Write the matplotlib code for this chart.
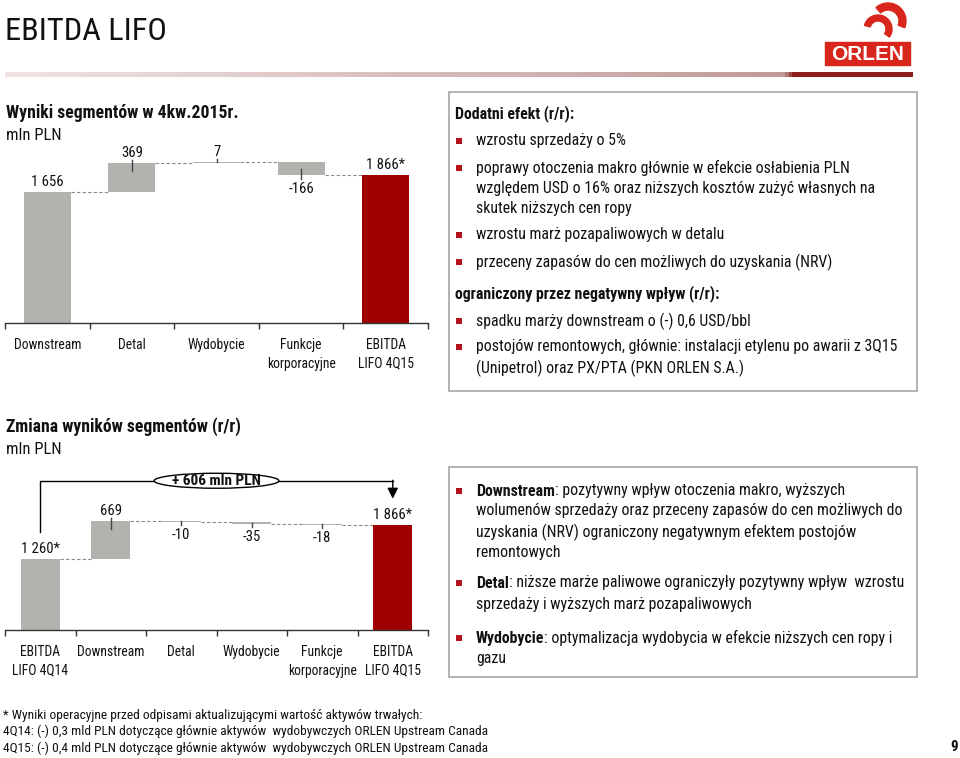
import numpy as np
import matplotlib
matplotlib.use('Agg')
from matplotlib import pyplot as plt
from matplotlib import font_manager
from matplotlib.patches import Rectangle, Ellipse, Wedge
from matplotlib.colors import LinearSegmentedColormap

# --- dane ---
seg_names = ['Downstream', 'Detal', 'Wydobycie', 'Funkcje\nkorporacyjne', 'EBITDA\nLIFO 4Q15']
seg_steps = [1656, 369, 7, -166]
seg_total = 1866

chg_names = ['EBITDA\nLIFO 4Q14', 'Downstream', 'Detal', 'Wydobycie',
             'Funkcje\nkorporacyjne', 'EBITDA\nLIFO 4Q15']
chg_start = 1260
chg_steps = [669, -10, -35, -18]
chg_total = 1866

# --- czcionka (waska, jak Arial Narrow) ---
installed = {f.name for f in font_manager.fontManager.ttflist}
FONT = 'Liberation Sans'
for cand in ['Liberation Sans Narrow', 'Arial Narrow', 'Nimbus Sans Narrow',
             'Roboto Condensed', 'Archivo Narrow']:
    if cand in installed:
        FONT = cand
        break
plt.rcParams['font.family'] = [FONT, 'DejaVu Sans']

GRAY = '#b2b2ae'
RED = '#a00000'
BULLET = '#b5121b'
TXT = '#111111'

W, H = 960, 758
fig = plt.figure(figsize=(W / 100, H / 100), dpi=100)

# warstwa w pikselach
ov = fig.add_axes([0, 0, 1, 1])
ov.set_xlim(0, W)
ov.set_ylim(H, 0)
ov.axis('off')


def rect(x0, y_top, x1, y_bot):
    return [x0 / W, (H - y_bot) / H, (x1 - x0) / W, (y_bot - y_top) / H]


def fmt(v):
    return f"{v:,}".replace(',', ' ')


# --- naglowek ---
ov.text(5, 32, 'EBITDA LIFO', fontsize=23.3, va='center', ha='left', color=TXT)
cmap = LinearSegmentedColormap.from_list('g', [(0, '#f0e4e4'), (0.86, '#c09a9a'),
                                               (0.87, '#8b1e1e'), (1, '#8b1e1e')])
ov.imshow(np.linspace(0, 1, 256)[None, :], cmap=cmap, aspect='auto',
          extent=[5, 913, 77, 72], zorder=1)
ov.set_xlim(0, W)
ov.set_ylim(H, 0)

# logo ORLEN
LOGO = '#d9261c'
ov.add_patch(Rectangle((825, 42), 85, 23, color=LOGO, zorder=2))
ov.text(867.5, 54, 'ORLEN', color='white', fontsize=15, fontweight='bold',
        ha='center', va='center', family='Liberation Sans', zorder=3)
ov.add_patch(Wedge((888, 21), 18, 228, 382, width=7, color=LOGO, zorder=2))
ov.add_patch(Wedge((878, 29), 14, 195, 395, width=6, color=LOGO, zorder=2))


# --- wykres kaskadowy ---
def waterfall(names, start, steps, total, baseline, top_px, scale):
    ax = fig.add_axes(rect(5, top_px, 428, baseline))
    ax.set_facecolor('none')
    n = len(names)
    x = np.arange(n)
    w = 0.555
    bottoms, heights, kinds = [], [], []
    level = 0
    if start is not None:
        bottoms.append(0)
        heights.append(start)
        kinds.append('start')
        level = start
    levels = [level] if start is not None else []
    for v in steps:
        bottoms.append(min(level, level + v))
        heights.append(abs(v))
        kinds.append('step')
        level += v
        levels.append(level)
    bottoms.append(0)
    heights.append(total)
    kinds.append('total')
    colors = [RED if k == 'total' else GRAY for k in kinds]
    ax.bar(x, heights, w, bottom=bottoms, color=colors, linewidth=0, zorder=2)

    # laczniki
    for i in range(n - 1):
        ax.plot([x[i] + w / 2, x[i + 1] - w / 2], [levels[i], levels[i]],
                color='#8a8a8a', lw=0.8, ls=(0, (3, 2)), zorder=1)

    px = 1 / scale
    vals = ([start] if start is not None else []) + list(steps) + [total]
    for i, (k, b, h, v) in enumerate(zip(kinds, bottoms, heights, vals)):
        top = b + h
        if k in ('start', 'total'):
            ax.text(x[i], top + 3 * px, fmt(v) + '*', ha='center', va='bottom',
                    fontsize=10.6, color=TXT)
            continue
        if v >= 0:
            ax.text(x[i], top + 3 * px, fmt(v), ha='center', va='bottom',
                    fontsize=10.6, color=TXT)
            if b > 0:
                ax.plot([x[i], x[i]], [top + 3 * px, top - min(8 * px, h * 0.6)],
                        color='#444444', lw=1, zorder=3)
        else:
            ax.text(x[i], b - 6.5 * px, fmt(v), ha='center', va='top',
                    fontsize=10.6, color=TXT)
            ax.plot([x[i], x[i]], [b + h / 2, b - 3.5 * px],
                    color='#444444', lw=1, zorder=3)

    ax.set_xlim(-0.5, n - 0.5)
    ax.set_ylim(0, (baseline - top_px) / scale)
    ax.set_yticks([])
    for s in ('left', 'right', 'top'):
        ax.spines[s].set_visible(False)
    ax.spines['bottom'].set_color('#333333')
    ax.spines['bottom'].set_linewidth(1)
    ax.set_xticks(x)
    ax.set_xticklabels(names, fontsize=9.8, color=TXT)
    for lab in ax.get_xticklabels():
        lab.set_linespacing(1.4)
    ax.set_xticks(np.arange(n + 1) - 0.5, minor=True)
    ax.tick_params(axis='x', which='major', length=0, pad=11)
    ax.tick_params(axis='x', which='minor', length=4, width=1, direction='out',
                   color='#333333')
    return ax, x


# wykres 1
ov.text(6, 113, 'Wyniki segmentów w 4kw.2015r.', fontsize=12.7, fontweight='bold',
        va='center', color=TXT)
ov.text(6, 136, 'mln PLN', fontsize=12, va='center', color=TXT)
waterfall(seg_names, None, seg_steps, seg_total, 323, 140, 0.0792)

# wykres 2
ov.text(6, 427, 'Zmiana wyników segmentów (r/r)', fontsize=12.7, fontweight='bold',
        va='center', color=TXT)
ov.text(6, 450, 'mln PLN', fontsize=12, va='center', color=TXT)
sc2 = 0.0564
ax2, x2 = waterfall(chg_names, chg_start, chg_steps, chg_total, 630, 500, sc2)
p2 = 1 / sc2
br_y = chg_total + 44 * p2
ax2.plot([x2[0], x2[0], x2[-1]], [chg_start + 27 * p2, br_y, br_y],
         color='black', lw=1, clip_on=False, zorder=4)
ax2.annotate('', xy=(x2[-1], chg_total + 26 * p2), xytext=(x2[-1], br_y + 0.5 * p2),
             arrowprops=dict(arrowstyle='-|>', color='black', lw=1,
                             mutation_scale=16, shrinkA=0, shrinkB=0),
             annotation_clip=False)
mid = (x2[0] + x2[-1]) / 2
ax2.add_patch(Ellipse((mid, br_y), 1.77, 15 * p2, facecolor='white', edgecolor='black',
                      lw=1, clip_on=False, zorder=5))
ax2.text(mid, br_y, f'+ {chg_total - chg_start} mln PLN', ha='center', va='center',
         fontsize=11, fontweight='bold', color=TXT, zorder=6, clip_on=False)

# --- ramki z opisem ---
ov.add_patch(Rectangle((449, 92), 468, 299, fill=False, edgecolor='#a6a6a6', lw=1.2))
ov.add_patch(Rectangle((449, 467), 468, 210, fill=False, edgecolor='#a6a6a6', lw=1.2))

renderer = fig.canvas.get_renderer()
FS = 11.4


def bullet(y):
    ov.add_patch(Rectangle((456, y - 3), 5.5, 5.5, color=BULLET, lw=0))


def line(y, text, bold_prefix=None):
    x = 476
    if bold_prefix:
        t = ov.text(x, y, bold_prefix, fontsize=FS, fontweight='bold', va='center',
                    color=TXT)
        x = t.get_window_extent(renderer=renderer).x1
    ov.text(x, y, text, fontsize=FS, va='center', color=TXT)


ov.text(455, 114, 'Dodatni efekt (r/r):', fontsize=FS, fontweight='bold', va='center',
        color=TXT)
bullet(141); line(141, 'wzrostu sprzedaży o 5%')
bullet(168); line(168, 'poprawy otoczenia makro głównie w efekcie osłabienia PLN')
line(188, 'względem USD o 16% oraz niższych kosztów zużyć własnych na')
line(208, 'skutek niższych cen ropy')
bullet(235); line(235, 'wzrostu marż pozapaliwowych w detalu')
bullet(262); line(262, 'przeceny zapasów do cen możliwych do uzyskania (NRV)')
ov.text(455, 294, 'ograniczony przez negatywny wpływ (r/r):', fontsize=FS,
        fontweight='bold', va='center', color=TXT)
bullet(321); line(321, 'spadku marży downstream o (-) 0,6 USD/bbl')
bullet(347); line(347, 'postojów remontowych, głównie: instalacji etylenu po awarii z 3Q15')
line(368, '(Unipetrol) oraz PX/PTA (PKN ORLEN S.A.)')

bullet(491); line(491, ': pozytywny wpływ otoczenia makro, wyższych', 'Downstream')
line(511, 'wolumenów sprzedaży oraz przeceny zapasów do cen możliwych do')
line(532, 'uzyskania (NRV) ograniczony negatywnym efektem postojów')
line(552, 'remontowych')
bullet(583); line(583, ': niższe marże paliwowe ograniczyły pozytywny wpływ  wzrostu', 'Detal')
line(605, 'sprzedaży i wyższych marż pozapaliwowych')
bullet(638); line(638, ': optymalizacja wydobycia w efekcie niższych cen ropy i', 'Wydobycie')
line(659, 'gazu')

# --- przypis ---
foot = ['* Wyniki operacyjne przed odpisami aktualizującymi wartość aktywów trwałych:',
        '4Q14: (-) 0,3 mld PLN dotyczące głównie aktywów  wydobywczych ORLEN Upstream Canada',
        '4Q15: (-) 0,4 mld PLN dotyczące głównie aktywów  wydobywczych ORLEN Upstream Canada']
for yy, s in zip([715, 731, 748], foot):
    ov.text(3, yy, s, fontsize=9.6, va='center', color=TXT)
ov.text(958, 747, '9', fontsize=11, fontweight='bold', ha='right', va='center', color=TXT)

fig.savefig('out.png', dpi=100)
